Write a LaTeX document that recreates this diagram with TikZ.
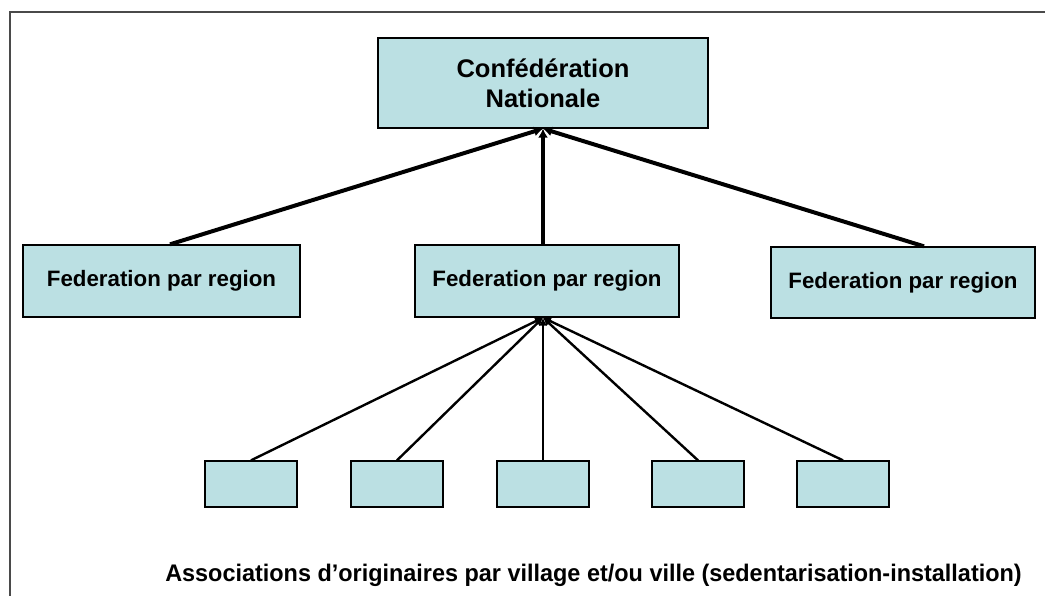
\documentclass[tikz,border=0pt]{standalone}
\usepackage{fontspec}
\setmainfont{Liberation Sans}
\usetikzlibrary{arrows.meta}
\definecolor{boxfill}{HTML}{BBE0E3}
\definecolor{framegray}{HTML}{4A4A4A}
\begin{document}
\begin{tikzpicture}[x=1pt,y=-1pt,
  box/.style={draw=black, line width=1.3pt, fill=boxfill, inner sep=0pt, align=center, font=\bfseries},
  bigarrow/.style={line width=4pt, -{Latex[length=9pt,width=10pt]}},
  smallarrow/.style={line width=2.4pt, -{Latex[length=8pt,width=8pt]}}]
\useasboundingbox (0,0) rectangle (1045,596);
\draw[framegray, line width=2pt] (1045,12) -- (9.5,12) -- (9.5,596);
\node[box, minimum width=330pt, minimum height=90pt, font=\bfseries\fontsize{25.5}{30}\selectfont] (conf) at (543,83) {Confédération\\Nationale};
\node[box, minimum width=277pt, minimum height=72pt, font=\bfseries\fontsize{22.3}{26}\selectfont] (fedL) at (161.5,281) {Federation par region};
\node[box, minimum width=264pt, minimum height=72pt, font=\bfseries\fontsize{22.3}{26}\selectfont] (fedM) at (547,281) {Federation par region};
\node[box, minimum width=264pt, minimum height=71pt, font=\bfseries\fontsize{22.3}{26}\selectfont] (fedR) at (903,282.5) {Federation par region};
\foreach \i/\x in {1/251,2/397,3/543,4/698,5/843}{
  \node[box, minimum width=92pt, minimum height=46pt] (a\i) at (\x,484) {};
}
\node[font=\bfseries\fontsize{24}{28}\selectfont] (assoc) at (593.5,575) {\scalebox{0.976}[1]{Associations d’originaires par village et/ou ville (sedentarisation-installation)}};
\draw[bigarrow] ([xshift=8.5pt]fedL.north) -- (conf.south);
\draw[bigarrow] ([xshift=-4pt]fedM.north) -- (conf.south);
\draw[bigarrow] ([xshift=21pt]fedR.north) -- (conf.south);
\foreach \i in {1,...,5}{
  \draw[smallarrow] (a\i.north) -- ([xshift=-4pt]fedM.south);
}
\end{tikzpicture}
\end{document}
